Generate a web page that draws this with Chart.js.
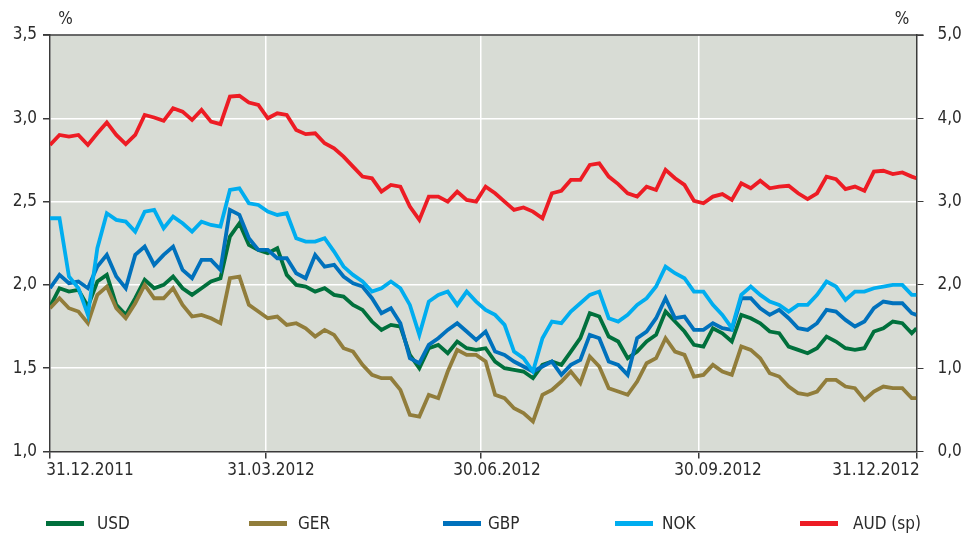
<!DOCTYPE html>
<html>
<head>
<meta charset="utf-8">
<script src="https://cdn.jsdelivr.net/npm/chart.js@4.4.0/dist/chart.umd.min.js"></script>
<style>
  body { margin: 0; background: #fff; font-family: "Liberation Sans Narrow", "DejaVu Sans Condensed", sans-serif; }
  #wrap { position: relative; width: 966px; height: 533px; }
  .leg { position: absolute; top: 511px; font-size: 17px; color: #2b2b2b; line-height: 24px; }
  .sw { position: absolute; top: 521px; width: 38px; height: 5px; }
</style>
</head>
<body>
<div id="wrap">
  <canvas id="chart" width="966" height="533"></canvas>
  <div id="legend"></div>
</div>
<script>
// days after 31.12.2011
const days = [0, 4, 8, 12, 16, 20, 24, 28, 32, 36, 40, 44, 48, 52, 56, 60, 64, 68, 72, 76, 80, 84, 88, 92,
  96, 100, 104, 108, 112, 116, 120, 124, 128, 132, 136, 140, 144, 148, 152, 156, 160, 164, 168, 172, 176, 180, 184,
  188, 192, 196, 200, 204, 208, 212, 216, 220, 224, 228, 232, 236, 240, 244, 248, 252, 256, 260, 264, 268, 272, 276,
  280, 284, 288, 292, 296, 300, 304, 308, 312, 316, 320, 324, 328, 332, 336, 340, 344, 348, 352, 356, 360, 364, 366];

const usd = [1.87, 1.98, 1.96, 1.97, 1.87, 2.02, 2.06, 1.88, 1.82, 1.92, 2.03, 1.98, 2.00, 2.05, 1.98, 1.94, 1.98, 2.02, 2.04, 2.29, 2.37, 2.24, 2.21, 2.19,
  2.22, 2.06, 2.00, 1.99, 1.96, 1.98, 1.94, 1.93, 1.88, 1.85, 1.78, 1.73, 1.76, 1.75, 1.58, 1.50, 1.62, 1.64, 1.59, 1.66, 1.62, 1.61, 1.62,
  1.54, 1.50, 1.49, 1.48, 1.44, 1.52, 1.54, 1.52, 1.60, 1.68, 1.83, 1.81, 1.69, 1.66, 1.56, 1.60, 1.66, 1.70, 1.84, 1.78, 1.72, 1.64, 1.63,
  1.74, 1.71, 1.66, 1.82, 1.80, 1.77, 1.72, 1.71, 1.63, 1.61, 1.59, 1.62, 1.69, 1.66, 1.62, 1.61, 1.62, 1.72, 1.74, 1.78, 1.77, 1.71, 1.74];

const ger = [1.86, 1.92, 1.86, 1.84, 1.77, 1.94, 1.99, 1.86, 1.80, 1.89, 2.00, 1.92, 1.92, 1.98, 1.88, 1.81, 1.82, 1.80, 1.77, 2.04, 2.05, 1.88, 1.84, 1.80,
  1.81, 1.76, 1.77, 1.74, 1.69, 1.73, 1.70, 1.62, 1.60, 1.52, 1.46, 1.44, 1.44, 1.37, 1.22, 1.21, 1.34, 1.32, 1.48, 1.61, 1.58, 1.58, 1.54,
  1.34, 1.32, 1.26, 1.23, 1.18, 1.34, 1.37, 1.42, 1.48, 1.41, 1.57, 1.51, 1.38, 1.36, 1.34, 1.42, 1.53, 1.56, 1.68, 1.60, 1.58, 1.45, 1.46,
  1.52, 1.48, 1.46, 1.63, 1.61, 1.56, 1.47, 1.45, 1.39, 1.35, 1.34, 1.36, 1.43, 1.43, 1.39, 1.38, 1.31, 1.36, 1.39, 1.38, 1.38, 1.32, 1.32];

const gbp = [1.98, 2.06, 2.01, 2.02, 1.98, 2.11, 2.18, 2.05, 1.98, 2.18, 2.23, 2.12, 2.18, 2.23, 2.09, 2.04, 2.15, 2.15, 2.09, 2.45, 2.42, 2.28, 2.21, 2.21,
  2.16, 2.16, 2.07, 2.04, 2.18, 2.11, 2.12, 2.05, 2.01, 1.99, 1.92, 1.83, 1.86, 1.77, 1.56, 1.53, 1.64, 1.68, 1.73, 1.77, 1.72, 1.67, 1.72,
  1.60, 1.58, 1.54, 1.51, 1.48, 1.51, 1.54, 1.46, 1.52, 1.55, 1.70, 1.68, 1.54, 1.52, 1.46, 1.68, 1.72, 1.80, 1.92, 1.80, 1.81, 1.73, 1.73,
  1.77, 1.74, 1.73, 1.92, 1.92, 1.86, 1.82, 1.85, 1.80, 1.74, 1.73, 1.77, 1.85, 1.84, 1.79, 1.75, 1.78, 1.86, 1.90, 1.89, 1.89, 1.83, 1.82];

const nok = [2.40, 2.40, 2.05, 1.98, 1.82, 2.22, 2.43, 2.39, 2.38, 2.32, 2.44, 2.45, 2.34, 2.41, 2.37, 2.32, 2.38, 2.36, 2.35, 2.57, 2.58, 2.49, 2.48, 2.44,
  2.42, 2.43, 2.28, 2.26, 2.26, 2.28, 2.20, 2.11, 2.06, 2.02, 1.96, 1.98, 2.02, 1.98, 1.88, 1.70, 1.90, 1.94, 1.96, 1.88, 1.96, 1.90, 1.85,
  1.82, 1.76, 1.60, 1.56, 1.48, 1.68, 1.78, 1.77, 1.84, 1.89, 1.94, 1.96, 1.80, 1.78, 1.82, 1.88, 1.92, 1.99, 2.11, 2.07, 2.04, 1.96, 1.96,
  1.88, 1.82, 1.74, 1.94, 1.99, 1.94, 1.90, 1.88, 1.84, 1.88, 1.88, 1.94, 2.02, 1.99, 1.91, 1.96, 1.96, 1.98, 1.99, 2.00, 2.00, 1.94, 1.94];

// right axis
const aud = [3.68, 3.80, 3.78, 3.80, 3.68, 3.82, 3.95, 3.80, 3.69, 3.80, 4.04, 4.01, 3.97, 4.12, 4.08, 3.98, 4.10, 3.96, 3.93, 4.26, 4.27, 4.19, 4.16, 4.00,
  4.06, 4.04, 3.86, 3.81, 3.82, 3.70, 3.64, 3.54, 3.42, 3.30, 3.28, 3.12, 3.20, 3.18, 2.94, 2.78, 3.06, 3.06, 3.00, 3.12, 3.02, 3.00, 3.18,
  3.10, 3.00, 2.90, 2.93, 2.88, 2.80, 3.10, 3.13, 3.26, 3.26, 3.44, 3.46, 3.30, 3.21, 3.10, 3.06, 3.18, 3.14, 3.38, 3.28, 3.20, 3.01, 2.98,
  3.06, 3.09, 3.02, 3.22, 3.16, 3.25, 3.16, 3.18, 3.19, 3.10, 3.03, 3.10, 3.30, 3.27, 3.15, 3.18, 3.13, 3.36, 3.37, 3.33, 3.35, 3.30, 3.28];

const tickDays = [0, 91, 182, 274, 366];
const tickLabels = ["31.12.2011", "31.03.2012", "30.06.2012", "30.09.2012", "31.12.2012"];
const labelCenters = [90, 271, 497, 718, 876];

const seriesNames = ["USD", "GER", "GBP", "NOK", "AUD (sp)"];
const seriesColors = ["#00703c", "#917d3b", "#0071bc", "#00adef", "#ed1c24"];
const legendX = [46, 249, 443, 615, 800];
const legendTextX = [97, 298, 488, 662, 853];

const FAMILY = "'Liberation Sans Narrow', 'DejaVu Sans Condensed', sans-serif";
const FONT = { family: FAMILY, size: 17 };
const TEXT = "#2b2b2b";
const AXIS = "#3a3a3a";

function pts(vals) {
  return vals.map((v, i) => ({ x: days[i], y: v }));
}

const plotFrame = {
  id: "plotFrame",
  beforeDraw(chart) {
    const { ctx, chartArea: a } = chart;
    ctx.save();
    ctx.fillStyle = "#d8dcd5";
    ctx.fillRect(a.left, a.top, a.right - a.left, a.bottom - a.top);
    ctx.restore();
  },
  afterDraw(chart) {
    const { ctx, chartArea: a } = chart;
    ctx.save();
    ctx.strokeStyle = AXIS;
    ctx.lineWidth = 1.5;
    ctx.beginPath();
    ctx.moveTo(a.left - 7, a.top);
    ctx.lineTo(a.right + 7, a.top);
    ctx.stroke();
    ctx.fillStyle = TEXT;
    ctx.font = "17px " + FAMILY;
    ctx.textAlign = "center";
    ctx.textBaseline = "middle";
    ctx.fillText("%", 65.5, 20);
    ctx.fillText("%", 902, 20);
    // date labels under the x axis
    tickLabels.forEach((t, i) => ctx.fillText(t, labelCenters[i], 471));
    ctx.restore();
  },
};

const datasets = [usd, ger, gbp, nok, aud].map((vals, i) => ({
  label: seriesNames[i],
  data: pts(vals),
  borderColor: seriesColors[i],
  backgroundColor: seriesColors[i],
  borderWidth: 3.8,
  pointRadius: 0,
  tension: 0,
  yAxisID: i === 4 ? "y1" : "y",
  order: i === 4 ? 0 : 4 - i,
}));

new Chart(document.getElementById("chart"), {
  type: "line",
  data: { datasets },
  plugins: [plotFrame],
  options: {
    responsive: false,
    animation: false,
    layout: { padding: { top: 35, left: 0, right: 0, bottom: 0 } },
    plugins: { legend: { display: false }, tooltip: { enabled: false } },
    scales: {
      x: {
        type: "linear",
        min: 0,
        max: 366,
        afterBuildTicks: (s) => { s.ticks = tickDays.map((v) => ({ value: v })); },
        afterFit: (s) => { s.height = 81.5; },
        ticks: { display: false },
        grid: { color: "#ffffff", lineWidth: 1.5, tickColor: AXIS, tickLength: 7 },
        border: { display: true, color: AXIS, width: 1.5 },
      },
      y: {
        position: "left",
        min: 1,
        max: 3.5,
        afterBuildTicks: (s) => { s.ticks = [1, 1.5, 2, 2.5, 3, 3.5].map((v) => ({ value: v })); },
        afterFit: (s) => { s.width = 50; },
        ticks: {
          padding: 6,
          color: TEXT,
          font: FONT,
          callback: (v) => v.toFixed(1).replace(".", ","),
        },
        grid: { color: "#ffffff", lineWidth: 1.5, tickColor: AXIS, tickLength: 7 },
        border: { display: true, color: AXIS, width: 1.5 },
      },
      y1: {
        position: "right",
        min: 0,
        max: 5,
        afterBuildTicks: (s) => { s.ticks = [0, 1, 2, 3, 4, 5].map((v) => ({ value: v })); },
        afterFit: (s) => { s.width = 49.5; },
        ticks: {
          padding: 14,
          color: TEXT,
          font: FONT,
          callback: (v) => v.toFixed(1).replace(".", ","),
        },
        grid: { drawOnChartArea: false, tickColor: AXIS, tickLength: 7 },
        border: { display: true, color: AXIS, width: 1.5 },
      },
    },
  },
});

const legend = document.getElementById("legend");
legend.innerHTML = seriesNames
  .map(
    (n, i) =>
      `<div class="sw" style="left:${legendX[i]}px;background:${seriesColors[i]}"></div>
       <div class="leg" style="left:${legendTextX[i]}px">${n}</div>`,
  )
  .join("");
</script>
</body>
</html>
